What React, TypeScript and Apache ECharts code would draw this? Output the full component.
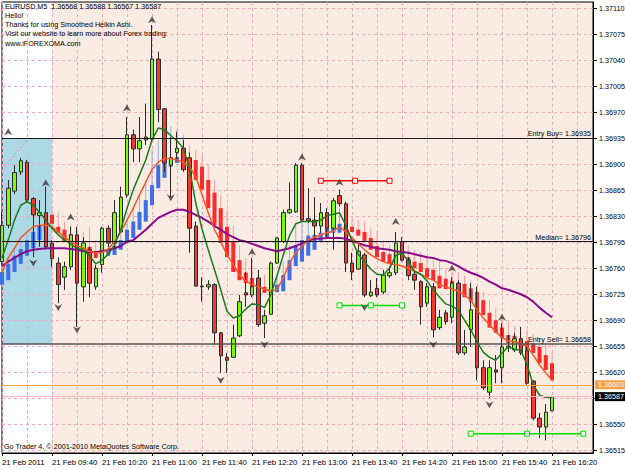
import React, { useEffect, useRef } from 'react';
import * as echarts from 'echarts';

const FONT = '"Liberation Sans", Arial, sans-serif';

const symbolName = 'EURUSD,M5';
const infoLines = [
  'Hello!',
  'Thanks for using Smoothed Heikin Ashi.',
  'Visit our website to learn more about Forex trading:',
  'www.iFOREXOMA.com',
];
const copyright = 'Go Trader 4, \u00a9 2001-2010 MetaQuotes Software Corp.';

const xTickLabels = [
  '21 Feb 2011', '21 Feb 09:40', '21 Feb 10:20', '21 Feb 11:00', '21 Feb 11:40', '21 Feb 12:20',
  '21 Feb 13:00', '21 Feb 13:40', '21 Feb 14:20', '21 Feb 15:00', '21 Feb 15:40', '21 Feb 16:20',
];
const yTicks = [
  1.36515, 1.3655, 1.36585, 1.3662, 1.36655, 1.3669, 1.36725, 1.3676, 1.36795,
  1.3683, 1.36865, 1.369, 1.36935, 1.3697, 1.37005, 1.3704, 1.37075, 1.3711,
];
const yMin = 1.36511;
const yMax = 1.37119;
const xMax = 94.56;

// Candles (bar index = position on the time axis)
const open = [
  1.36769, 1.36818, 1.36864, 1.3689, 1.36903, 1.36854, 1.36831, 1.36835, 1.36794, 1.36767,
  1.36748, 1.36762, 1.36805, 1.36735, 1.36785, 1.36735, 1.36765, 1.36814, 1.36794, 1.36809,
  1.36859, 1.3694, 1.36921, 1.36933, 1.36934, 1.37042, 1.36975, 1.36899, 1.36916, 1.36922,
  1.36909, 1.36817, 1.36736, 1.36735, 1.36738, 1.36673, 1.3664, 1.3664, 1.36669, 1.36727,
  1.36724, 1.36747, 1.36686, 1.36698, 1.36767, 1.36796, 1.36835, 1.36836, 1.36899, 1.36827,
  1.36825, 1.36817, 1.36835, 1.36814, 1.36858, 1.36847, 1.36767, 1.36759, 1.36778, 1.36723,
  1.36733, 1.36728, 1.3675, 1.36754, 1.36796, 1.36771, 1.36752, 1.36742, 1.36713, 1.36735,
  1.3668, 1.367, 1.36694, 1.3674, 1.36646, 1.36677, 1.36704, 1.36626, 1.36593, 1.36623,
  1.36626, 1.36655, 1.3665, 1.36665, 1.36649, 1.36608, 1.36558, 1.36546, 1.36568,
];
const close = [
  1.36818, 1.36868, 1.36889, 1.36905, 1.36852, 1.36832, 1.36835, 1.36789, 1.36773, 1.36738,
  1.36762, 1.36805, 1.3674, 1.36794, 1.3674, 1.3676, 1.36814, 1.36794, 1.36835, 1.36856,
  1.3694, 1.36921, 1.36932, 1.36937, 1.37042, 1.36974, 1.36902, 1.36909, 1.36922, 1.36893,
  1.36814, 1.36736, 1.36735, 1.36738, 1.36673, 1.36642, 1.36636, 1.36666, 1.36715, 1.36724,
  1.36735, 1.36684, 1.36696, 1.36767, 1.36801, 1.36835, 1.36839, 1.36899, 1.36825, 1.36824,
  1.36817, 1.36835, 1.36814, 1.36851, 1.36847, 1.36767, 1.36755, 1.36783, 1.36724, 1.36728,
  1.36724, 1.36751, 1.36754, 1.36794, 1.36771, 1.3675, 1.36744, 1.36708, 1.36735, 1.36677,
  1.36694, 1.36688, 1.3674, 1.36646, 1.36654, 1.36704, 1.36626, 1.36599, 1.36626, 1.3662,
  1.36654, 1.36653, 1.36665, 1.36646, 1.36605, 1.36558, 1.36546, 1.36566, 1.36587,
];
const high = [
  1.36836, 1.36879, 1.36899, 1.36909, 1.36906, 1.36856, 1.36852, 1.3687, 1.36798, 1.36775,
  1.36769, 1.36816, 1.36816, 1.36802, 1.36789, 1.36765, 1.36816, 1.36818, 1.36852, 1.3687,
  1.36964, 1.36947, 1.36964, 1.36982, 1.37088, 1.37052, 1.36976, 1.36937, 1.36944, 1.36933,
  1.36916, 1.36823, 1.36748, 1.36744, 1.3674, 1.36674, 1.36646, 1.36684, 1.36724, 1.36755,
  1.36774, 1.36758, 1.36704, 1.36769, 1.36802, 1.36839, 1.36876, 1.36902, 1.36902, 1.36868,
  1.36856, 1.36848, 1.36841, 1.36855, 1.36866, 1.3685, 1.36781, 1.36794, 1.36781, 1.36744,
  1.36747, 1.36758, 1.36763, 1.36809, 1.36802, 1.36775, 1.36755, 1.36744, 1.3674, 1.3674,
  1.36704, 1.36704, 1.36748, 1.36744, 1.36677, 1.3674, 1.36735, 1.36636, 1.36636, 1.36643,
  1.36686, 1.3667, 1.36673, 1.36681, 1.36654, 1.36609, 1.36565, 1.36577, 1.36588,
];
const low = [
  1.36765, 1.36814, 1.3686, 1.36886, 1.36848, 1.36775, 1.36789, 1.36785, 1.36762, 1.36713,
  1.36731, 1.36758, 1.36681, 1.36715, 1.36721, 1.36731, 1.36754, 1.36789, 1.36787, 1.36808,
  1.36855, 1.36903, 1.36903, 1.36926, 1.36929, 1.36957, 1.3689, 1.36856, 1.36905, 1.3689,
  1.36781, 1.36735, 1.36715, 1.36731, 1.36657, 1.36619, 1.36619, 1.36639, 1.36667, 1.36708,
  1.36721, 1.36681, 1.36666, 1.36697, 1.36766, 1.36794, 1.36833, 1.36835, 1.36823, 1.36821,
  1.36802, 1.36808, 1.36802, 1.36785, 1.36843, 1.36755, 1.36744, 1.36758, 1.36721, 1.36721,
  1.36721, 1.36725, 1.36747, 1.36751, 1.36769, 1.36744, 1.36731, 1.36684, 1.36708, 1.36667,
  1.36677, 1.36684, 1.36686, 1.36643, 1.36643, 1.36654, 1.36609, 1.36596, 1.36585, 1.36605,
  1.36605, 1.36647, 1.36647, 1.36643, 1.36603, 1.36555, 1.36531, 1.36528, 1.36567,
];

// Smoothed Heikin Ashi
const haOpen = [
  1.36738, 1.36744, 1.36755, 1.36766, 1.36777, 1.36787, 1.36798, 1.36809, 1.36832, 1.36816,
  1.36812, 1.36806, 1.36798, 1.36794, 1.36789, 1.36782, 1.36782, 1.36777, 1.36778, 1.36785,
  1.36794, 1.36801, 1.36812, 1.36823, 1.36845, 1.36868, 1.36882, 1.36897, 1.36902, 1.36906,
  1.36909, 1.36906, 1.36897, 1.36879, 1.36862, 1.36841, 1.36816, 1.36796, 1.36771, 1.36754,
  1.36747, 1.36738, 1.36735, 1.36727, 1.36728, 1.36729, 1.36744, 1.36763, 1.36769, 1.36777,
  1.36785, 1.36797, 1.36802, 1.36808, 1.36808, 1.36817, 1.36816, 1.36812, 1.36809, 1.36801,
  1.3679, 1.36782, 1.36779, 1.36781, 1.36781, 1.36775, 1.36769, 1.36767, 1.3676, 1.36758,
  1.3675, 1.36746, 1.36743, 1.3674, 1.36739, 1.36733, 1.36728, 1.36717, 1.367, 1.3669,
  1.3668, 1.3667, 1.36669, 1.36665, 1.36662, 1.36659, 1.36654, 1.36643, 1.36632,
];
const haClose = [
  1.36755, 1.36766, 1.36777, 1.36786, 1.36798, 1.36809, 1.36817, 1.3682, 1.3682, 1.36808,
  1.36796, 1.3679, 1.36785, 1.36785, 1.36775, 1.36774, 1.36775, 1.36785, 1.3679, 1.36798,
  1.36812, 1.36823, 1.36836, 1.36852, 1.36872, 1.36899, 1.36903, 1.36906, 1.3691, 1.36912,
  1.36899, 1.36879, 1.36866, 1.36841, 1.36818, 1.36794, 1.36775, 1.36755, 1.36744, 1.3674,
  1.36733, 1.36728, 1.36727, 1.36735, 1.36738, 1.36751, 1.36771, 1.36791, 1.36798, 1.36804,
  1.36805, 1.36808, 1.36814, 1.36816, 1.3682, 1.3681, 1.36809, 1.36804, 1.36797, 1.36785,
  1.36775, 1.36769, 1.36767, 1.36769, 1.36773, 1.36765, 1.3676, 1.36755, 1.36748, 1.36744,
  1.36733, 1.36732, 1.36728, 1.36724, 1.36721, 1.36715, 1.36704, 1.36697, 1.3668, 1.36673,
  1.36666, 1.36659, 1.36659, 1.36654, 1.3665, 1.36646, 1.36632, 1.36623, 1.36609,
];
const haHigh = [
  1.36765, 1.36774, 1.36785, 1.36796, 1.36806, 1.36817, 1.36828, 1.36836, 1.36839, 1.36836,
  1.36823, 1.36818, 1.36814, 1.36809, 1.36816, 1.36798, 1.36796, 1.36791, 1.36798, 1.36809,
  1.36828, 1.36845, 1.36859, 1.36879, 1.3692, 1.36933, 1.36947, 1.36951, 1.36947, 1.3694,
  1.36926, 1.3692, 1.36913, 1.36899, 1.36879, 1.36859, 1.36839, 1.36818, 1.36791, 1.36774,
  1.36765, 1.36758, 1.36751, 1.36744, 1.36751, 1.36769, 1.36791, 1.36818, 1.36832, 1.36832,
  1.36828, 1.36832, 1.36836, 1.36839, 1.36841, 1.36832, 1.36828, 1.36825, 1.36823, 1.36814,
  1.36809, 1.36798, 1.36791, 1.36793, 1.36798, 1.36791, 1.36785, 1.36782, 1.36777, 1.36774,
  1.36769, 1.3676, 1.36758, 1.36755, 1.3675, 1.36744, 1.36738, 1.36728, 1.36717, 1.36707,
  1.36697, 1.36688, 1.36682, 1.3668, 1.36677, 1.36671, 1.36666, 1.36657, 1.36647,
];
const haLow = [
  1.36738, 1.36744, 1.36755, 1.36766, 1.36777, 1.36787, 1.36798, 1.36809, 1.3682, 1.36808,
  1.36796, 1.3679, 1.36785, 1.36785, 1.36775, 1.36774, 1.36775, 1.36777, 1.36778, 1.36785,
  1.36794, 1.36801, 1.36812, 1.36823, 1.36845, 1.36868, 1.36882, 1.36897, 1.36902, 1.36906,
  1.36899, 1.36879, 1.36866, 1.36841, 1.36818, 1.36794, 1.36775, 1.36755, 1.36744, 1.3674,
  1.36733, 1.36728, 1.36727, 1.36727, 1.36728, 1.36729, 1.36744, 1.36763, 1.36769, 1.36777,
  1.36785, 1.36797, 1.36802, 1.36808, 1.36808, 1.3681, 1.36809, 1.36804, 1.36797, 1.36785,
  1.36775, 1.36769, 1.36767, 1.36769, 1.36773, 1.36765, 1.3676, 1.36755, 1.36748, 1.36744,
  1.36733, 1.36732, 1.36728, 1.36724, 1.36721, 1.36715, 1.36704, 1.36697, 1.3668, 1.36673,
  1.36666, 1.36659, 1.36659, 1.36654, 1.3665, 1.36646, 1.36632, 1.36623, 1.36609,
];

// Moving averages
const maFast = [
  1.36774, 1.36798, 1.36825, 1.36845, 1.3685, 1.36845, 1.36836, 1.36825, 1.36814, 1.36805,
  1.36798, 1.36793, 1.36787, 1.36785, 1.36777, 1.36766, 1.36771, 1.36779, 1.36791, 1.36812,
  1.36841, 1.36866, 1.36886, 1.36906, 1.36933, 1.36949, 1.36947, 1.36939, 1.36932, 1.36922,
  1.36895, 1.36848, 1.36813, 1.36785, 1.36758, 1.36731, 1.36702, 1.36693, 1.36696, 1.36705,
  1.36712, 1.36711, 1.36707, 1.36724, 1.3675, 1.36778, 1.36804, 1.3682, 1.36823, 1.36823,
  1.36823, 1.36825, 1.36831, 1.36833, 1.36835, 1.36818, 1.36798, 1.36779, 1.36769, 1.36759,
  1.36752, 1.36751, 1.3676, 1.36777, 1.36781, 1.36769, 1.36756, 1.36752, 1.36743, 1.36731,
  1.36721, 1.36712, 1.36709, 1.36704, 1.3669, 1.36677, 1.36661, 1.36647, 1.3664, 1.36636,
  1.36646, 1.36654, 1.36651, 1.3665, 1.3663, 1.36603, 1.36589, 1.36586, 1.36586,
];
const maMid = [
  1.36754, 1.36774, 1.36787, 1.36801, 1.36809, 1.36816, 1.36818, 1.36818, 1.36816, 1.36809,
  1.36802, 1.36796, 1.36791, 1.36787, 1.36783, 1.36781, 1.36781, 1.36786, 1.36796, 1.36809,
  1.36825, 1.36841, 1.36859, 1.36876, 1.36893, 1.36903, 1.36908, 1.36908, 1.36906, 1.36903,
  1.36897, 1.36883, 1.36859, 1.36835, 1.36812, 1.36796, 1.36778, 1.36765, 1.36751, 1.36743,
  1.36738, 1.36735, 1.36732, 1.36729, 1.36731, 1.36747, 1.36767, 1.36781, 1.3679, 1.36798,
  1.36802, 1.36805, 1.36808, 1.3681, 1.36816, 1.36809, 1.36801, 1.36793, 1.36785, 1.36778,
  1.36773, 1.36769, 1.36766, 1.36765, 1.36763, 1.3676, 1.36756, 1.36752, 1.36747, 1.36744,
  1.36738, 1.36735, 1.36732, 1.36729, 1.36724, 1.36717, 1.36704, 1.36693, 1.36684, 1.36674,
  1.36667, 1.36662, 1.36661, 1.36658, 1.36655, 1.36643, 1.3663, 1.36619, 1.36609,
];
const maSlow = [
  1.36763, 1.36769, 1.36774, 1.36779, 1.36783, 1.36785, 1.36786, 1.36787, 1.36787, 1.36787,
  1.36787, 1.36786, 1.36785, 1.36783, 1.36782, 1.36782, 1.36783, 1.36785, 1.36787, 1.3679,
  1.36796, 1.36798, 1.36805, 1.36812, 1.3682, 1.36828, 1.36832, 1.36836, 1.36839, 1.36839,
  1.36836, 1.36832, 1.36828, 1.36823, 1.36817, 1.36812, 1.36806, 1.36802, 1.36798, 1.36796,
  1.36793, 1.3679, 1.36787, 1.36785, 1.36783, 1.36785, 1.36787, 1.3679, 1.36794, 1.36797,
  1.368, 1.368, 1.36801, 1.36801, 1.36801, 1.368, 1.36797, 1.36794, 1.36791, 1.36789,
  1.36787, 1.36786, 1.36785, 1.36783, 1.36782, 1.36781, 1.36779, 1.36777, 1.36775, 1.36774,
  1.36771, 1.3677, 1.36767, 1.36763, 1.36758, 1.36754, 1.36751, 1.36747, 1.36742, 1.36738,
  1.36733, 1.36731, 1.36728, 1.36725, 1.36721, 1.36715, 1.36707, 1.367, 1.36694,
];

// Fractal arrows [bar index, price]
const fractalUp = [
  [1, 1.36944], [7, 1.36875], [11, 1.36829], [20, 1.36976], [24, 1.37095], [40, 1.36782],
  [48, 1.3691], [54, 1.36876], [63, 1.36823], [72, 1.3676], [80, 1.36694],
];
const fractalDown = [
  [5, 1.36767], [9, 1.36707], [12, 1.36677], [27, 1.36855], [35, 1.36609], [42, 1.36657],
  [58, 1.36707], [69, 1.36657], [78, 1.36576],
];

// Levels and objects
const entryBuy = 1.36935;
const median = 1.36796;
const entrySell = 1.36658;
const askLevel = 1.36603;
const bidLevel = 1.36587;
const zoneStart = 0;
const zoneEnd = 8;
const redSegment = [[51, 1.36878], [56.5, 1.36878], [62, 1.36878]];
const greenSegment = [[54, 1.3671], [59, 1.3671], [64, 1.3671]];
const greenSegment2 = [[75, 1.36537], [84, 1.36537], [93, 1.36537]];
const pinkTrend = [[0, 1.36893], [4, 1.36933]];

const PEACH = '#FAECE2';
const GRID = '#EFA9BA';

const idx = (arr: number[]) => arr.map((v, i) => [i, v]);

export default function App() {
  const ref = useRef<HTMLDivElement>(null);
  useEffect(() => {
    document.body.style.margin = '0';
    const chart = echarts.init(ref.current as HTMLDivElement, null, { renderer: 'svg' });
    const last = open.length - 1;
    const title = `${symbolName}  ${open[last].toFixed(5)} ${high[last].toFixed(5)} ${low[last].toFixed(5)} ${close[last].toFixed(5)}`;
    const txt = (text: string, left: number, top: number) => ({
      type: 'text', left, top, z: 100,
      style: { text, fontSize: 7.2, fontFamily: FONT, fill: '#000' },
    });
    const entryLabel = (text: string) => ({
      show: true, position: 'insideEndTop', formatter: text, color: '#000',
      fontSize: 7.2, fontFamily: FONT, distance: [2, 1],
    });
    const boxLabel = (text: string, bg: string) => ({
      show: true, position: 'end', formatter: text, color: '#fff', backgroundColor: bg,
      padding: [1, 3, 1, 3], fontSize: 7.2, fontFamily: FONT, distance: 2,
    });
    const option: any = {
      animation: false,
      backgroundColor: '#fff',
      grid: {
        left: 2, top: 2, width: 591, height: 451, show: true,
        borderColor: '#000', borderWidth: 1, backgroundColor: 'transparent',
        containLabel: false, outerBoundsMode: 'none',
      },
      xAxis: {
        type: 'value', min: 0, max: xMax, interval: 8,
        axisLine: { show: true, lineStyle: { color: '#000' } },
        axisTick: { show: true, length: 3, lineStyle: { color: '#000' } },
        axisLabel: {
          show: true, align: 'left', margin: 5, fontSize: 7.7, fontFamily: FONT, color: '#000',
          showMaxLabel: false,
          formatter: (v: number) => {
            const k = Math.round(v / 8);
            return Math.abs(v - k * 8) < 1e-6 && xTickLabels[k] ? xTickLabels[k] : '';
          },
        },
        splitLine: { show: true, lineStyle: { color: GRID, type: [3, 3], width: 1 } },
        minorTick: { show: false, splitNumber: 2 },
        minorSplitLine: { show: true, lineStyle: { color: GRID, type: [3, 3], width: 1 } },
      },
      yAxis: {
        type: 'value', position: 'right', min: yMin, max: yMax,
        axisLine: { show: true, onZero: false, lineStyle: { color: '#000' } },
        axisTick: { show: true, length: 4, customValues: yTicks, lineStyle: { color: '#000' } },
        axisLabel: {
          show: true, customValues: yTicks, margin: 6, fontSize: 7.2, fontFamily: FONT, color: '#000',
          formatter: (v: number) => v.toFixed(5),
        },
        splitLine: { show: true, lineStyle: { color: GRID, type: [3, 3], width: 1 } },
      },
      graphic: [
        txt(title, 5, 3),
        txt(infoLines[0], 5, 11.5),
        txt(infoLines[1], 5, 20.5),
        txt(infoLines[2], 5, 30),
        txt(infoLines[3], 5, 39.5),
        txt(copyright, 4, 443),
      ],
      series: [
        {
          type: 'line', data: [[zoneStart, entryBuy]], symbol: 'none', silent: true,
          lineStyle: { opacity: 0 }, z: -5,
          markArea: {
            silent: true, z: -5, precision: 5,
            data: [
              [{ xAxis: zoneEnd, itemStyle: { color: PEACH } }, { xAxis: xMax }],
              [{ xAxis: zoneStart, yAxis: entryBuy, itemStyle: { color: '#ADD8E6' } }, { xAxis: zoneEnd, yAxis: entrySell }],
            ],
          },
        },
        {
          type: 'custom', z: 2, silent: true,
          data: haOpen.map((o, i) => [i, o, haClose[i], haHigh[i], haLow[i]]),
          encode: { x: 0, y: [1, 2, 3, 4] },
          renderItem: (params: any, api: any) => {
            const i = api.value(0);
            const o = api.value(1), c = api.value(2), h = api.value(3), l = api.value(4);
            const pO = api.coord([i, o]);
            const pC = api.coord([i, c]);
            const pH = api.coord([i, h]);
            const pL = api.coord([i, l]);
            const up = c >= o;
            const x = pO[0];
            return {
              type: 'group',
              children: [
                {
                  type: 'line',
                  shape: { x1: x, y1: pH[1], x2: x, y2: pL[1] },
                  style: { stroke: up ? '#93AEF2' : '#FF9C9C', lineWidth: 1 },
                },
                {
                  type: 'rect',
                  shape: { x: x - 2, y: Math.min(pO[1], pC[1]), width: 4, height: Math.max(1.5, Math.abs(pC[1] - pO[1])) },
                  style: { fill: up ? '#3F6FE6' : '#FF2A2A' },
                },
              ],
            };
          },
        },
        {
          type: 'candlestick', z: 3, silent: true, barWidth: 4,
          data: open.map((o, i) => [i, o, close[i], low[i], high[i]]),
          itemStyle: {
            color: '#7CFC00', color0: '#F23A30',
            borderColor: '#2A2A2A', borderColor0: '#2A2A2A', borderColorDoji: '#2A2A2A', borderWidth: 1,
          },
        },
        {
          type: 'line', z: 4, data: idx(maSlow), symbol: 'none', silent: true,
          lineStyle: { color: '#8A0A8A', width: 2 },
        },
        {
          type: 'line', z: 4, data: idx(maMid), symbol: 'none', silent: true,
          lineStyle: { color: '#FF5522', width: 1.5 },
        },
        {
          type: 'line', z: 4, data: idx(maFast), symbol: 'none', silent: true,
          lineStyle: { color: '#1C7A1C', width: 1.5 },
        },
        {
          type: 'line', z: 4, data: pinkTrend, symbol: 'none', silent: true,
          lineStyle: { color: '#FF7F90', width: 1, type: [2, 2] },
        },
        {
          type: 'line', z: 4, data: redSegment, symbol: 'rect', symbolSize: 5, showSymbol: true, silent: true,
          itemStyle: { color: '#FFFFFF', borderColor: '#FF0000', borderWidth: 1 },
          lineStyle: { color: '#FF0000', width: 1.5 },
        },
        {
          type: 'line', z: 4, data: greenSegment, symbol: 'rect', symbolSize: 5, showSymbol: true, silent: true,
          itemStyle: { color: '#FFFFFF', borderColor: '#00E000', borderWidth: 1 },
          lineStyle: { color: '#00E000', width: 1.5 },
        },
        {
          type: 'line', z: 4, data: greenSegment2, symbol: 'rect', symbolSize: 5, showSymbol: true, silent: true,
          itemStyle: { color: '#FFFFFF', borderColor: '#00E000', borderWidth: 1 },
          lineStyle: { color: '#00E000', width: 1.5 },
        },
        {
          type: 'line', z: 5, data: [[zoneStart, entryBuy]], symbol: 'none', silent: true,
          lineStyle: { opacity: 0 },
          markLine: {
            silent: true, symbol: ['none', 'none'], animation: false, precision: 5,
            data: [
              { yAxis: entryBuy, lineStyle: { color: '#1a1a1a', width: 1, type: 'solid' }, label: entryLabel(`Entry Buy= ${entryBuy.toFixed(5)}`) },
              { yAxis: median, lineStyle: { color: '#1a1a1a', width: 1, type: 'solid' }, label: entryLabel(`Median= ${median.toFixed(5)}`) },
              { yAxis: entrySell, lineStyle: { color: '#555', width: 1.5, type: 'solid' }, label: entryLabel(`Entry Sell= ${entrySell.toFixed(5)}`) },
              { yAxis: askLevel, lineStyle: { color: '#FFA64D', width: 1, type: 'solid' }, label: boxLabel(askLevel.toFixed(5), '#FFA040') },
              { yAxis: bidLevel, lineStyle: { color: '#FFB4C2', width: 1, type: 'solid' }, label: boxLabel(bidLevel.toFixed(5), '#000') },
            ],
          },
        },
        {
          type: 'scatter', z: 6, data: fractalUp, silent: true,
          symbol: 'path://M5,0L10,10L5,7L0,10Z', symbolSize: [8, 7],
          itemStyle: { color: '#333' },
        },
        {
          type: 'scatter', z: 6, data: fractalDown, silent: true,
          symbol: 'path://M0,0L5,3L10,0L5,10Z', symbolSize: [8, 7],
          itemStyle: { color: '#333' },
        },
      ],
    };
    chart.setOption(option);
    return () => chart.dispose();
  }, []);
  return (
    <div
      ref={ref}
      style={{ position: 'absolute', left: 0, top: 0, width: 625, height: 469, background: '#fff' }}
    />
  );
}
